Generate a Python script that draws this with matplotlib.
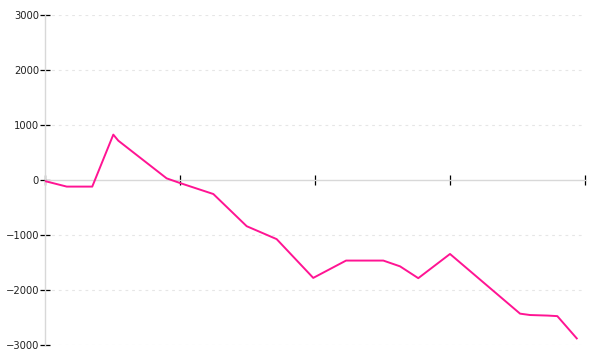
import matplotlib
matplotlib.use("Agg")
import matplotlib.pyplot as plt

# x positions (in tick units) and cumulative values
x_pos = [0.0, 0.161, 0.350, 0.506, 0.543, 0.901, 1.0, 1.247, 1.494, 1.716,
         1.987, 2.230, 2.506, 2.630, 2.765, 3.0, 3.519, 3.593, 3.724, 3.795, 3.939]
values = [-20, -120, -120, 825, 715, 30, -55, -255, -840, -1075,
          -1780, -1465, -1465, -1570, -1785, -1345, -2430, -2455, -2465, -2475, -2880]
y_ticks = [-3000, -2000, -1000, 0, 1000, 2000, 3000]
x_ticks = [0, 1, 2, 3, 4]

fig = plt.figure(figsize=(6, 3.6), dpi=100)
ax = fig.add_axes([45/600, 15/360, 540/600, 330/360])

ax.set_xlim(0, 4)
ax.set_ylim(-3000, 3000)

# grid
for v in y_ticks:
    if v != 0:
        ax.axhline(v, color="#e6e6e6", lw=0.8, ls=(0, (2.5, 3.5)), zorder=0)

ax.plot(x_pos, values, color="#ff1493", lw=1.4, zorder=3)

for s in ["top", "right"]:
    ax.spines[s].set_visible(False)
ax.spines["left"].set_color("#d8d8d8")
ax.spines["left"].set_linewidth(1)
ax.spines["bottom"].set_position(("data", 0))
ax.spines["bottom"].set_color("#d8d8d8")
ax.spines["bottom"].set_linewidth(1)

ax.set_yticks(y_ticks)
ax.set_yticklabels([f"{v}".replace("-", "\u2212") for v in y_ticks])
ax.set_xticks(x_ticks)
ax.set_xticklabels([])
ax.tick_params(axis="y", direction="inout", length=6.5, width=0.9, color="black",
               labelsize=7.2, labelcolor="#222222", pad=1)
ax.tick_params(axis="x", direction="inout", length=6.5, width=0.9, color="black")

fig.savefig("out.png", dpi=100)
